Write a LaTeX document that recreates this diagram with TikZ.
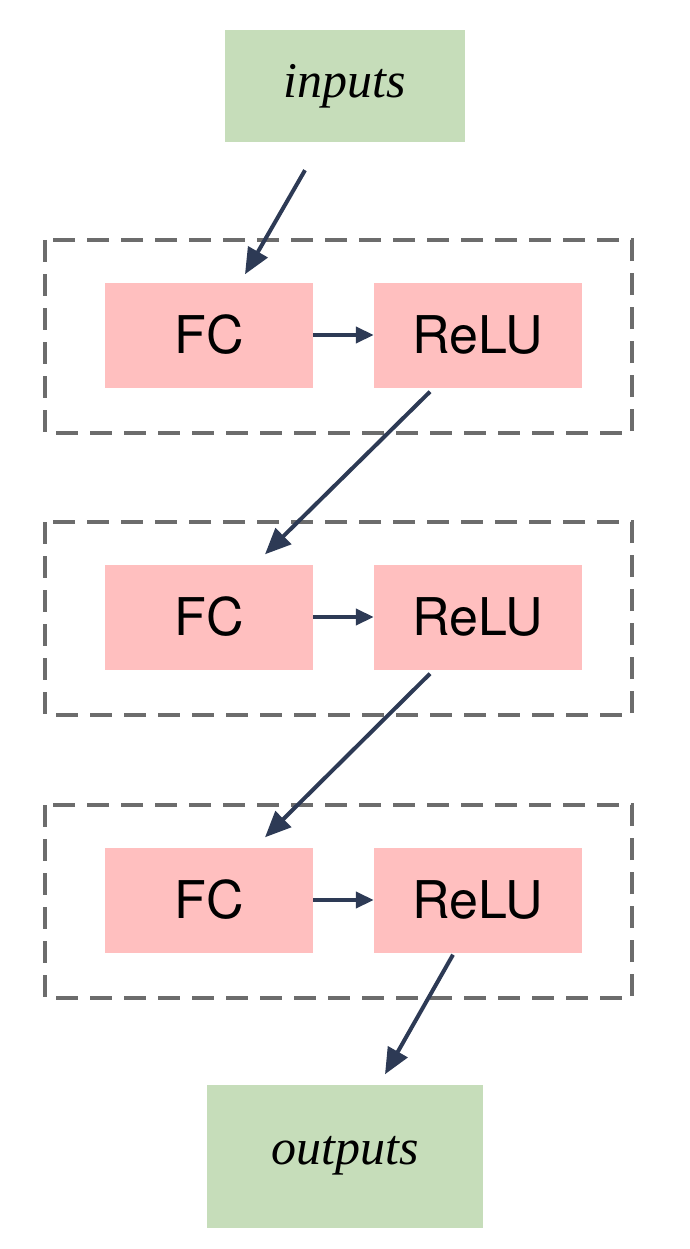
\documentclass[tikz,border=0pt]{standalone}
\usepackage{fontspec}
\setmainfont{TeX Gyre Heros}
\newfontfamily\serifit{Liberation Serif}
\usetikzlibrary{calc,arrows.meta}
\definecolor{gbox}{HTML}{C6DDBA}
\definecolor{pbox}{HTML}{FFBFBF}
\definecolor{arr}{HTML}{2D3A55}
\begin{document}
\begin{tikzpicture}[x=1pt,y=-1pt,
  io/.style={fill=gbox,draw=none,inner sep=0,font=\serifit\itshape\fontsize{50}{50}\selectfont},
  op/.style={fill=pbox,draw=none,minimum width=208,minimum height=105,inner sep=0,font=\fontsize{52}{52}\selectfont},
  grp/.style={draw=gray!85!black,line width=4.5,dash pattern=on 22 off 12},
  ar/.style={draw=arr,line width=4,-{Triangle[length=26,width=22]}}]
\useasboundingbox (0,0) rectangle (689,1249);
\node[io,minimum width=240,minimum height=112] (inp) at (345,86) {inputs};
\node[io,minimum width=276,minimum height=143] (out) at (345,1156) {outputs};
\foreach \i/\y in {1/335,2/617,3/900}{
  \node[op] (fc\i) at (209,\y) {FC};
  \node[op] (re\i) at (478,\y) {ReLU};
  \draw[grp] (45,\y-95) rectangle (632,\y+98);
  \draw[ar,-{Triangle[length=18,width=16]}] (fc\i.east) ++(0,0) -- (re\i.west);
}
\draw[ar] ($(inp.south)+(-40,28)$) -- ($(fc1.north)+(36,-8)$);
\draw[ar] ($(re1.south)+(-48,4)$) -- ($(fc2.north)+(56,-10)$);
\draw[ar] ($(re2.south)+(-48,4)$) -- ($(fc3.north)+(56,-10)$);
\draw[ar] ($(re3.south)+(-25,2)$) -- ($(out.north)+(40,-10)$);
\end{tikzpicture}
\end{document}
